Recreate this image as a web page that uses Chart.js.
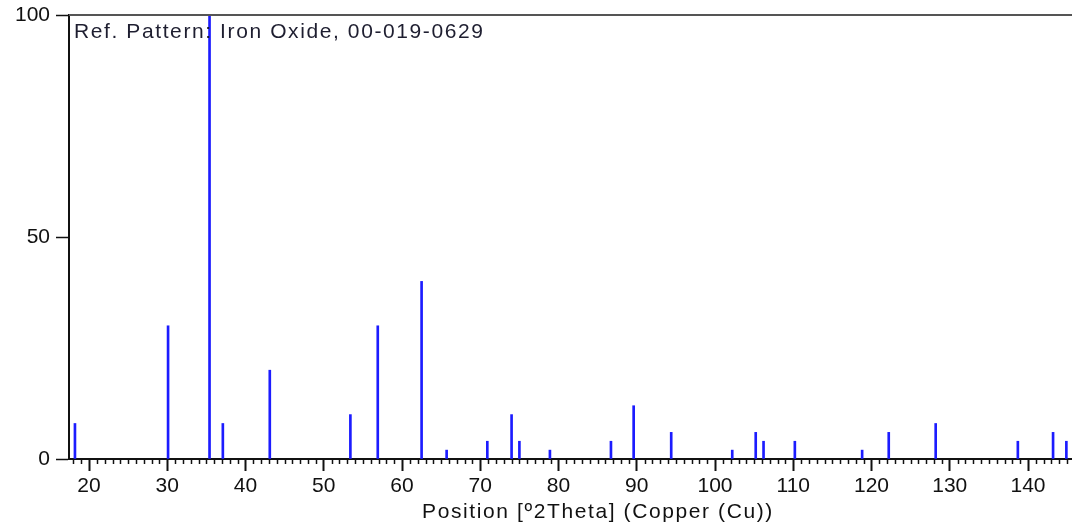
<!DOCTYPE html>
<html>
<head>
<meta charset="utf-8">
<script src="https://cdn.jsdelivr.net/npm/chart.js@4.4.1/dist/chart.umd.min.js"></script>
<style>
  html, body { margin: 0; padding: 0; background: #fff; }
  #wrap { width: 1072px; height: 527px; position: relative; }
</style>
</head>
<body>
<div id="wrap"><canvas id="xrdChart"></canvas></div>
<script>
// reference pattern: Iron Oxide 00-019-0629
const positions = [18.2, 30.1, 35.4, 37.1, 43.1, 53.4, 56.9, 62.5, 65.7, 70.9, 74.0, 75.0, 78.9,
  86.7, 89.6, 94.4, 102.2, 105.2, 106.2, 110.2, 118.8, 122.2, 128.2, 138.7, 143.2, 144.9];
const intensities = [8, 30, 100, 8, 20, 10, 30, 40, 2, 4, 10, 4, 2,
  4, 12, 6, 2, 6, 4, 4, 2, 6, 8, 4, 6, 4];
const xTicks = [20, 30, 40, 50, 60, 70, 80, 90, 100, 110, 120, 130, 140];
const yTicks = [0, 50, 100];
const refLabel = 'Ref. Pattern: Iron Oxide, 00-019-0629';
const xTitle = 'Position [º2Theta] (Copper (Cu))';

const FONT = '"Liberation Sans", Arial, sans-serif';

const extras = {
  id: 'extras',
  beforeInit(chart) {
    chart.ctx.letterSpacing = '1px';
  },
  afterDraw(chart) {
    const ctx = chart.ctx;
    const area = chart.chartArea;
    const xs = chart.scales.x;
    ctx.save();
    // top frame line
    ctx.strokeStyle = '#555';
    ctx.lineWidth = 2;
    ctx.beginPath();
    ctx.moveTo(area.left, area.top);
    ctx.lineTo(chart.width, area.top);
    ctx.stroke();
    // minor ticks every 1 degree
    ctx.strokeStyle = '#111';
    ctx.lineWidth = 1.5;
    for (let v = Math.ceil(xs.min); v <= xs.max; v++) {
      if (v % 10 === 0) continue;
      const px = Math.round(xs.getPixelForValue(v)) + 0.5;
      ctx.beginPath();
      ctx.moveTo(px, area.bottom);
      ctx.lineTo(px, area.bottom + 5);
      ctx.stroke();
    }
    // texts
    ctx.letterSpacing = '1.6px';
    ctx.font = '21px ' + FONT;
    ctx.fillStyle = '#1e1e30';
    ctx.textAlign = 'left';
    ctx.textBaseline = 'alphabetic';
    ctx.fillText(refLabel, area.left + 5, area.top + 23);
    ctx.fillStyle = '#111';
    ctx.textAlign = 'center';
    ctx.fillText(xTitle, 598, 518);
    ctx.restore();
  }
};

const ctx = document.getElementById('xrdChart').getContext('2d');
new Chart(ctx, {
  type: 'bar',
  data: {
    datasets: [{
      data: positions.map((p, i) => ({ x: p, y: intensities[i] })),
      backgroundColor: '#1c1cff',
      borderWidth: 0,
      barThickness: 2
    }]
  },
  options: {
    responsive: true,
    maintainAspectRatio: false,
    animation: false,
    events: [],
    layout: { padding: { top: 15, right: 0, left: 0, bottom: 0 } },
    plugins: {
      legend: { display: false },
      tooltip: { enabled: false }
    },
    scales: {
      x: {
        type: 'linear',
        min: 17.44,
        max: 145.62,
        offset: false,
        afterFit(scale) { scale.height = 68; },
        afterBuildTicks(scale) { scale.ticks = xTicks.map(v => ({ value: v })); },
        grid: {
          offset: false,
          drawOnChartArea: false,
          drawTicks: true,
          tickLength: 12,
          tickWidth: 2,
          tickColor: '#111'
        },
        border: { display: true, color: '#111', width: 2 },
        ticks: {
          autoSkip: false,
          maxRotation: 0,
          padding: 3,
          color: '#111',
          font: { family: FONT, size: 21 }
        }
      },
      y: {
        min: 0,
        max: 100,
        afterFit(scale) { scale.width = 69; },
        afterBuildTicks(scale) { scale.ticks = yTicks.map(v => ({ value: v })); },
        grid: {
          drawOnChartArea: false,
          drawTicks: true,
          tickLength: 13,
          tickWidth: 1.5,
          tickColor: '#111'
        },
        border: { display: true, color: '#111', width: 2 },
        ticks: {
          padding: 6,
          color: '#111',
          font: { family: FONT, size: 21, lineHeight: 0.8 }
        }
      }
    }
  },
  plugins: [extras]
});
</script>
</body>
</html>
